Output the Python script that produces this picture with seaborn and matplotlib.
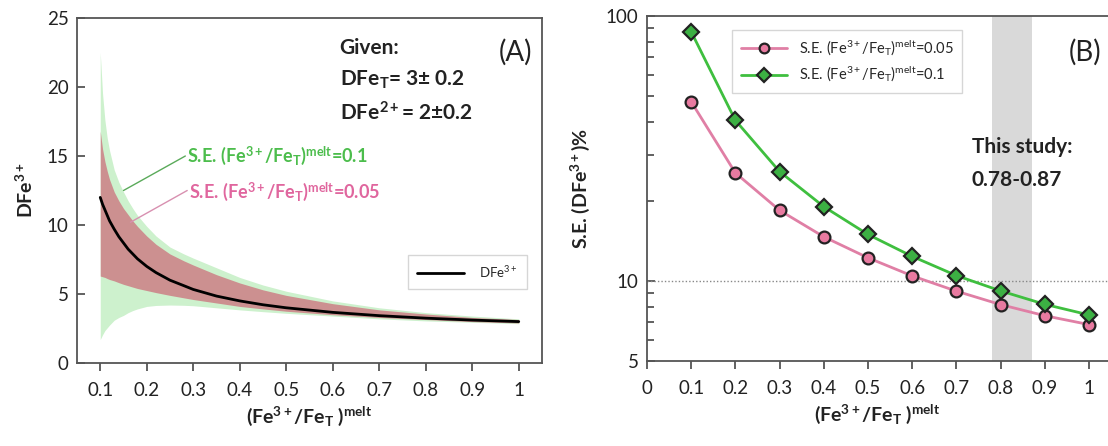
import numpy as np
import pandas as pd
import matplotlib
matplotlib.use("Agg")
import matplotlib.pyplot as plt
import seaborn as sns
from matplotlib.ticker import FixedLocator, NullFormatter, FixedFormatter

# ---------------- data: panel A ----------------
fA = [0.1, 0.105, 0.11, 0.115, 0.12, 0.13, 0.14, 0.15, 0.16, 0.17, 0.18, 0.2, 0.22, 0.25,
      0.28, 0.3, 0.35, 0.4, 0.45, 0.5, 0.6, 0.7, 0.8, 0.9, 1.0]
dfe3 = [12.0, 11.5, 11.1, 10.7, 10.3, 9.7, 9.15, 8.7, 8.25, 7.9, 7.55, 7.0, 6.55, 6.0,
        5.6, 5.33, 4.85, 4.5, 4.22, 4.0, 3.67, 3.43, 3.25, 3.11, 3.0]
pink_hi = [16.8, 15.5, 14.6, 13.9, 13.3, 12.4, 11.75, 11.2, 10.75, 10.3, 9.9, 9.2, 8.6, 7.9,
           7.4, 7.1, 6.4, 5.8, 5.3, 4.9, 4.3, 3.85, 3.55, 3.3, 3.15]
pink_lo = [6.3, 6.25, 6.2, 6.12, 6.05, 5.95, 5.82, 5.7, 5.6, 5.5, 5.4, 5.25, 5.1, 4.9,
           4.72, 4.6, 4.35, 4.1, 3.92, 3.75, 3.5, 3.3, 3.15, 3.0, 2.9]
green_hi = [22.5, 19.5, 17.6, 16.3, 15.4, 14.0, 13.1, 12.4, 11.75, 11.2, 10.7, 9.9, 9.2, 8.4,
            7.9, 7.6, 6.9, 6.2, 5.65, 5.2, 4.5, 4.0, 3.65, 3.4, 3.2]
green_lo = [1.7, 2.05, 2.35, 2.55, 2.75, 3.1, 3.3, 3.45, 3.65, 3.8, 3.92, 4.1, 4.17, 4.2,
            4.18, 4.15, 4.0, 3.85, 3.72, 3.6, 3.4, 3.2, 3.05, 2.95, 2.85]

# ---------------- data: panel B ----------------
fB = [0.1, 0.2, 0.3, 0.4, 0.5, 0.6, 0.7, 0.8, 0.9, 1.0]
se_005 = [47.5, 25.6, 18.5, 14.7, 12.25, 10.47, 9.17, 8.16, 7.41, 6.86]
se_01 = [87.2, 40.4, 25.9, 19.1, 15.0, 12.4, 10.5, 9.19, 8.18, 7.46]

xticksA = [0.1, 0.2, 0.3, 0.4, 0.5, 0.6, 0.7, 0.8, 0.9, 1.0]
xticklabelsA = ["0.1", "0.2", "0.3", "0.4", "0.5", "0.6", "0.7", "0.8", "0.9", "1"]
yticksA = [0, 5, 10, 15, 20, 25]
xticksB = [0, 0.1, 0.2, 0.3, 0.4, 0.5, 0.6, 0.7, 0.8, 0.9, 1.0]
xticklabelsB = ["0", "0.1", "0.2", "0.3", "0.4", "0.5", "0.6", "0.7", "0.8", "0.9", "1"]
yticksB = [5, 10, 100]
study_range = (0.78, 0.87)

# ---------------- style ----------------
sns.set_theme(style="ticks")
plt.rcParams["font.family"] = ["Lato", "DejaVu Sans"]
plt.rcParams["mathtext.fontset"] = "custom"
plt.rcParams["mathtext.rm"] = "Lato"
plt.rcParams["mathtext.bf"] = "Lato:bold"
plt.rcParams["mathtext.it"] = "Lato:italic"

SPINE = "#555555"
TXT = "#222222"
GREEN_FILL = "#cdf1cd"
PINK_FILL = "#cc9090"
GREEN_TXT = "#4cbd4c"
PINK_TXT = "#e0669e"

W, H = 1108, 446
fig = plt.figure(figsize=(W / 100, H / 100), dpi=100)
axA = fig.add_axes([77 / W, (H - 363) / H, 465 / W, 345 / H])
axB = fig.add_axes([647 / W, (H - 361) / H, (W - 647) / W, 345 / H])

# ---------------- panel A ----------------
axA.fill_between(fA, green_lo, green_hi, color=GREEN_FILL, lw=0, zorder=1)
axA.fill_between(fA, pink_lo, pink_hi, color=PINK_FILL, lw=0, zorder=2)
dfA = pd.DataFrame({"f": fA, "D": dfe3})
sns.lineplot(data=dfA, x="f", y="D", ax=axA, color="black", lw=2.0,
             label=r"DFe$^{3+}$", zorder=3)
axA.set_xlim(0.05, 1.05)
axA.set_ylim(0, 25)
axA.set_xticks(xticksA)
axA.set_xticklabels(xticklabelsA)
axA.set_yticks(yticksA)
axA.set_xlabel(r"(Fe$^{\mathbf{3+}}$/Fe$_{\mathbf{T}}$ )$^{\mathbf{melt}}$",
               fontsize=14, fontweight="bold", color=TXT, labelpad=4)
axA.set_ylabel(r"DFe$^{\mathbf{3+}}$", fontsize=14, fontweight="bold", color=TXT, labelpad=8)
legA = axA.legend(loc="lower right", bbox_to_anchor=(0.968, 0.214), borderaxespad=0,
                  fontsize=9.5, frameon=True, fancybox=False, edgecolor="#cccccc",
                  handlelength=3.5, borderpad=0.7, handletextpad=1.2)
legA.get_frame().set_linewidth(1.0)

axA.text(0.615, 22.8, "Given:", fontsize=15, fontweight="bold", color=TXT, va="center")
axA.text(0.615, 20.5, r"DFe$_{\mathbf{T}}$= 3± 0.2", fontsize=15, fontweight="bold", color=TXT, va="center")
axA.text(0.615, 18.1, r"DFe$^{\mathbf{2+}}$= 2±0.2", fontsize=15, fontweight="bold", color=TXT, va="center")
axA.text(1.03, 22.5, "(A)", fontsize=20, color=TXT, va="center", ha="right")

axA.plot([0.15, 0.283], [12.5, 15.0], color="#5aaa5a", lw=1.0, zorder=4)
axA.plot([0.165, 0.287], [10.2, 12.5], color="#d890b0", lw=1.0, zorder=4)
axA.text(0.287, 15.0, r"S.E. (Fe$^{\mathbf{3+}}$/Fe$_{\mathbf{T}}$)$^{\mathbf{melt}}$=0.1",
         fontsize=13, fontweight="bold", color=GREEN_TXT, va="center")
axA.text(0.29, 12.4, r"S.E. (Fe$^{\mathbf{3+}}$/Fe$_{\mathbf{T}}$)$^{\mathbf{melt}}$=0.05",
         fontsize=13, fontweight="bold", color=PINK_TXT, va="center")

# ---------------- panel B ----------------
axB.axvspan(study_range[0], study_range[1], color="#d9d9d9", lw=0, zorder=0)
axB.axhline(10, color="#888888", lw=1.0, ls=(0, (1, 1.5)), zorder=1)
dfB = pd.DataFrame({"f": fB * 2, "se": se_005 + se_01,
                    "series": [r"S.E. (Fe$^{3+}$/Fe$_{\mathrm{T}}$)$^{\mathrm{melt}}$=0.05"] * len(fB)
                    + [r"S.E. (Fe$^{3+}$/Fe$_{\mathrm{T}}$)$^{\mathrm{melt}}$=0.1"] * len(fB)})
names = dfB["series"].unique()
sns.lineplot(data=dfB, x="f", y="se", hue="series", style="series", ax=axB,
             palette={names[0]: "#e07fa5", names[1]: "#3fbf3f"},
             markers={names[0]: "o", names[1]: "D"}, dashes=False, lw=2.0,
             markersize=8.5, markeredgecolor="#222222", markeredgewidth=1.6, zorder=3)
for line, fc in zip(axB.get_lines()[1:3], ["#e87aa0", "#3cb043"]):
    line.set_markerfacecolor(fc)
axB.set_yscale("log")
axB.set_xlim(0, (W - 647) / 442)
axB.set_ylim(5, 100)
axB.set_xticks(xticksB)
axB.set_xticklabels(xticklabelsB)
axB.yaxis.set_major_locator(FixedLocator(yticksB))
axB.yaxis.set_major_formatter(FixedFormatter([str(v) for v in yticksB]))
axB.yaxis.set_minor_locator(FixedLocator([6, 7, 8, 9, 20, 30, 40, 50, 60, 70, 80, 90]))
axB.yaxis.set_minor_formatter(NullFormatter())
axB.set_xlabel(r"(Fe$^{\mathbf{3+}}$/Fe$_{\mathbf{T}}$ )$^{\mathbf{melt}}$",
               fontsize=14, fontweight="bold", color=TXT, labelpad=4)
axB.set_ylabel(r"S.E. (DFe$^{\mathbf{3+}}$)%", fontsize=14, fontweight="bold", color=TXT, labelpad=10)
legB = axB.legend(loc="upper left", bbox_to_anchor=(0.184, 0.959), borderaxespad=0,
                  fontsize=10.5, frameon=True, fancybox=False, edgecolor="#cccccc",
                  handlelength=3.2, borderpad=0.6, handletextpad=0.8, labelspacing=0.5)
legB.get_frame().set_linewidth(1.0)
for h, fc in zip(legB.get_lines(), ["#e87aa0", "#3cb043"]):
    h.set_markerfacecolor(fc)
    h.set_markeredgecolor("#222222")
    h.set_markersize(7)
axB.text(0.735, 32, "This study:", fontsize=15, fontweight="bold", color=TXT, va="center")
axB.text(0.735, 24, "0.78-0.87", fontsize=15, fontweight="bold", color=TXT, va="center")
axB.text(0.99, 73, "(B)", fontsize=20, color=TXT, va="center", ha="center")
axB.spines["right"].set_visible(False)

for ax in (axA, axB):
    for s in ax.spines.values():
        s.set_color(SPINE)
        s.set_linewidth(1.3)
    ax.tick_params(axis="x", direction="out", length=6, width=1.3, color=SPINE,
                   labelsize=13.5, labelcolor=TXT, pad=8)
    ax.tick_params(axis="y", which="both", direction="in", length=6, width=1.3, color=SPINE,
                   labelsize=13.5, labelcolor=TXT, pad=6)
    ax.set_facecolor("white")
axB.tick_params(axis="y", which="minor", length=5)

fig.savefig("out.png", dpi=100, facecolor="white")
